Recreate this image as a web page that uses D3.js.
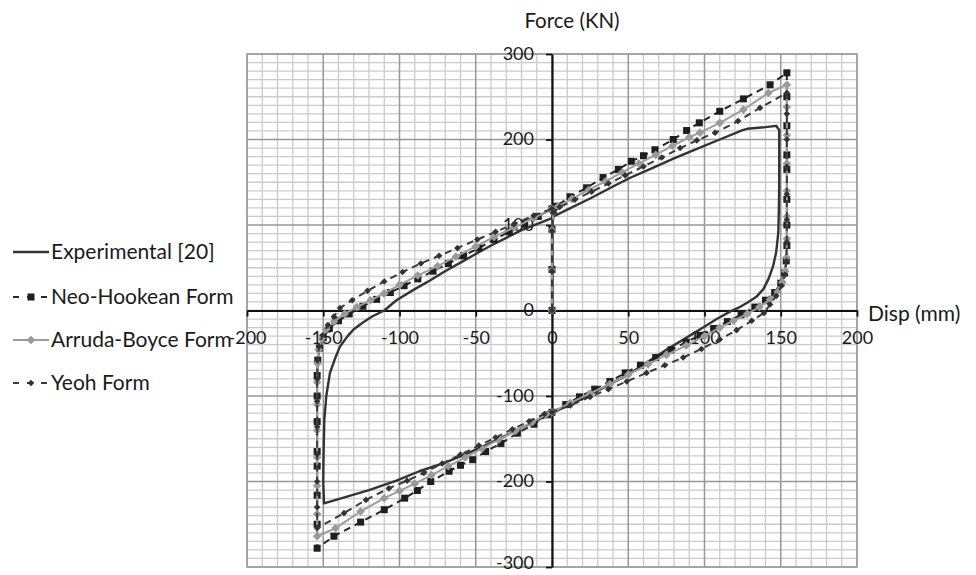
<!DOCTYPE html>
<html>
<head>
<meta charset="utf-8">
<script src="https://cdn.jsdelivr.net/npm/d3@7"></script>
<style>
  html, body { margin: 0; padding: 0; background: #fff; }
  svg { display: block; }
  text { font-family: Lato, "Open Sans", sans-serif; fill: #1a1a1a; }
</style>
</head>
<body>
<svg id="chart" width="976" height="575"></svg>
<script>
// Axis ticks
const xTicks = [-200, -150, -100, -50, 0, 50, 100, 150, 200];
const yTicks = [-300, -200, -100, 0, 100, 200, 300];

// Series names
const seriesNames = ["Experimental [20]", "Neo-Hookean Form", "Arruda-Boyce Form", "Yeoh Form"];

// Hysteresis loops, [displacement (mm), force (kN)]
const experimental = [
  [0,0],[0,50],[0,100],[1,110],[10,118],[25,131],[40,145],[51,155],[65,166],[80,178],[95,189],[110,200],
  [125,211],[128,212.5],[140,214.5],[147,216],[149,211],[149,180],[149,150],[148.8,120],[148.4,91],[147,68],
  [145,52],[142,37],[138.6,25],[134,16],[128,9],[122,3],[117,-1],[108,-10],[98,-21],[88,-32],[75,-46],
  [62,-61],[49,-76],[35,-89],[20,-103],[8,-113],[0,-120],[-15,-133],[-30,-146],[-44,-158],[-54,-166],
  [-70,-178],[-87,-188],[-102,-199],[-120,-210],[-135,-218],[-149.5,-225.5],[-150,-200],[-149.8,-170],
  [-149.3,-128],[-148,-100],[-145.6,-73],[-142,-55],[-139,-42],[-134,-30],[-130,-22],[-124,-14],[-118,-7],
  [-110,0],[-102,12],[-90,25],[-80,35],[-71,45],[-60,56],[-50,66],[-40,76],[-30,85],[-20,94],[-10,101],[0,108]
];

const neoHookean = [
  [0,0],[0,48],[0,95],[1,117],
  [3,122],[11.8,133],[22.7,143.5],[33.5,155.5],[43.5,165],[52,174.5],[60,181],[67.5,188],[79.5,200],
  [88.3,210.5],[96.6,219.5],[110,233],[125.5,247.5],[143,264],[154,278],
  [154,250],[154,216],[154,182],[154,165],[154,130],[154,100],[154,76],[153.6,58],[152.5,44],[150,32],
  [146,21],[140,12],
  [133,4],[124,-5],[115,-13],[106,-21],[97,-29],[88,-37],[78,-46],[68,-55],[58,-64],[48,-73],[38,-83],
  [28,-92],[18,-101],[9,-110],[0,-119],
  [-3,-122],[-11.8,-133],[-22.7,-143.5],[-33.5,-155.5],[-43.5,-165],[-52,-174.5],[-60,-181],[-67.5,-188],
  [-79.5,-200],[-88.3,-210.5],[-96.6,-219.5],[-110,-233],[-125.5,-247.5],[-143,-264],[-154,-278],
  [-154,-250],[-154,-216],[-154,-182],[-154,-165],[-154,-130],[-154,-100],[-154,-76],[-153.6,-58],
  [-152.5,-44],[-150,-32],[-146,-21],[-140,-12],
  [-133,-4],[-124,5],[-115,13],[-106,21],[-97,29],[-88,37],[-78,46],[-68,55],[-58,64],[-48,73],[-38,83],
  [-28,92],[-18,101],[-9,110],[0,119]
];

const arrudaBoyce = [
  [0,0],[0,47],[0,94],[1,116],
  [4,122],[13,130.5],[24,141],[35,151],[46,161.5],[57,172],[68,182],[79,192.5],[90,202.5],[97,208],
  [110,219.5],[125.5,235],[141.9,254.5],[154,264],
  [154,238],[154,205],[154,172],[154,140],[154,110],[154,84],[153.7,62],[153,46],[151,33],[148,22],[143,13],
  [136,4],[128,-4],[119,-12],[110,-20],[100,-30],[88,-41],[75,-52],[63,-63],[50,-75],[38,-86],[25,-97],
  [12,-108],[0,-119],
  [-4,-122],[-13,-130.5],[-24,-141],[-35,-151],[-46,-161.5],[-57,-172],[-68,-182],[-79,-192.5],
  [-90,-202.5],[-100,-211],[-110,-219.5],[-125.5,-235],[-141.9,-254.5],[-154,-264],
  [-154,-238],[-154,-205],[-154,-172],[-154,-140],[-154,-110],[-154,-84],[-153.7,-62],[-153,-46],
  [-151,-33],[-148,-22],[-143,-13],
  [-136,-4],[-128,4],[-119,12],[-110,20],[-100,30],[-88,41],[-75,52],[-63,63],[-50,75],[-38,86],
  [-25,97],[-12,108],[0,119]
];

const yeoh = [
  [0,0],[0,46],[0,93],[1,115],
  [5,121],[15,129.5],[26,139],[37,148.5],[48,158],[60,168.5],[72,179],[84,190],[95,199],[107,208],
  [122,221.5],[136.4,237],[154,254.5],
  [154,230],[154,200],[154,168],[154,136],[154,106],[154,80],[153.7,58],[152.8,42],[150.5,29],[147,17],[143,7],
  [139,-3],[131,-12],[121,-23],[110,-34],[98,-45],[86,-55],[74,-64],[62,-73],[49,-83],[37,-92],[25,-101],
  [12,-111],[0,-119],
  [-5,-121],[-15,-129.5],[-26,-139],[-37,-148.5],[-48,-158],[-60,-168.5],[-72,-179],[-84,-190],[-95,-199],
  [-107,-208],[-122,-221.5],[-136.4,-237],[-154,-254.5],
  [-154,-230],[-154,-200],[-154,-168],[-154,-136],[-154,-106],[-154,-80],[-153.7,-58],[-152.8,-42],
  [-150.5,-29],[-147,-17],[-143,-7],
  [-139,3],[-131,12],[-121,23],[-110,34],[-98,45],[-86,55],[-74,64],[-62,73],[-49,83],[-37,92],
  [-25,101],[-12,111],[0,119]
];

// ---- layout ----
const svg = d3.select("#chart");
const plot = { left: 247, right: 857, top: 54, bottom: 567 };

const x = d3.scaleLinear().domain([-200, 200]).range([plot.left, plot.right]);
const y = d3.scaleLinear().domain([-300, 300]).range([plot.bottom, plot.top]);

// ---- gridlines ----
const grid = svg.append("g");
const minorX = x.ticks(40).filter(v => v % 50 !== 0);
const minorY = y.ticks(60).filter(v => v % 100 !== 0);

grid.selectAll(".mx").data(minorX).join("line")
  .attr("x1", d => x(d)).attr("x2", d => x(d))
  .attr("y1", plot.top).attr("y2", plot.bottom)
  .attr("stroke", "#cbcbcb").attr("stroke-width", 1.3);
grid.selectAll(".my").data(minorY).join("line")
  .attr("x1", plot.left).attr("x2", plot.right)
  .attr("y1", d => y(d)).attr("y2", d => y(d))
  .attr("stroke", "#cbcbcb").attr("stroke-width", 1.3);
grid.selectAll(".Mx").data(xTicks).join("line")
  .attr("x1", d => x(d)).attr("x2", d => x(d))
  .attr("y1", plot.top).attr("y2", plot.bottom)
  .attr("stroke", "#979797").attr("stroke-width", 1.5);
grid.selectAll(".My").data(yTicks).join("line")
  .attr("x1", plot.left).attr("x2", plot.right)
  .attr("y1", d => y(d)).attr("y2", d => y(d))
  .attr("stroke", "#979797").attr("stroke-width", 1.5);
grid.append("rect")
  .attr("x", plot.left).attr("y", plot.top)
  .attr("width", plot.right - plot.left).attr("height", plot.bottom - plot.top)
  .attr("fill", "none").attr("stroke", "#a0a0a0").attr("stroke-width", 1.5);

// ---- axes ----
const axisFont = 18;
const plainNumber = d => String(d);
const xAxis = svg.append("g")
  .attr("transform", `translate(0,${y(0)})`)
  .call(d3.axisBottom(x).tickValues(xTicks).tickFormat(plainNumber)
    .tickSize(6).tickSizeOuter(0).tickPadding(15));
const yAxis = svg.append("g")
  .attr("transform", `translate(${x(0)},0)`)
  .call(d3.axisLeft(y).tickValues(yTicks).tickFormat(plainNumber)
    .tickSize(6).tickSizeOuter(0).tickPadding(12));
yAxis.selectAll(".tick text").attr("dy", "0.3em");
// keep the lowest label inside the frame
yAxis.selectAll(".tick text").filter(d => d === -300).attr("dy", "0.1em");

[xAxis, yAxis].forEach(g => {
  g.select(".domain").attr("stroke", "#111").attr("stroke-width", 2.2);
  g.selectAll(".tick line").attr("stroke", "#111").attr("stroke-width", 1.8);
  g.selectAll(".tick text")
    .attr("font-size", axisFont)
    .attr("font-family", "Lato, sans-serif")
    .attr("fill", "#1a1a1a");
});

// ---- series ----
const line = d3.line().x(d => x(d[0])).y(d => y(d[1]));

const styles = [
  { data: experimental, stroke: "#333", width: 2.4, dash: null, marker: null },
  { data: neoHookean, stroke: "#262626", width: 2, dash: "7,5", marker: "square", mfill: "#1e1e1e", msize: 7 },
  { data: arrudaBoyce, stroke: "#9d9d9d", width: 2, dash: null, marker: "diamond", mfill: "#9a9a9a", msize: 7 },
  { data: yeoh, stroke: "#3a3a3a", width: 2, dash: "7,5", marker: "diamond", mfill: "#333", msize: 5 }
];

function drawMarker(g, type, cx, cy, size, fill) {
  if (type === "square") {
    g.append("rect")
      .attr("x", cx - size / 2).attr("y", cy - size / 2)
      .attr("width", size).attr("height", size)
      .attr("fill", fill);
  } else if (type === "diamond") {
    const r = size / 2 + 0.8;
    g.append("path")
      .attr("d", `M${cx},${cy - r}L${cx + r},${cy}L${cx},${cy + r}L${cx - r},${cy}Z`)
      .attr("fill", fill);
  }
}

const seriesG = svg.append("g");
styles.forEach(s => {
  const g = seriesG.append("g");
  g.append("path")
    .datum(s.data)
    .attr("d", line)
    .attr("fill", "none")
    .attr("stroke", s.stroke)
    .attr("stroke-width", s.width)
    .attr("stroke-linejoin", "round")
    .attr("stroke-dasharray", s.dash);
  if (s.marker) {
    s.data.forEach(d => drawMarker(g, s.marker, x(d[0]), y(d[1]), s.msize, s.mfill));
  }
});

// ---- axis titles ----
svg.append("text")
  .attr("x", 572).attr("y", 28)
  .attr("text-anchor", "middle")
  .attr("font-size", 20.5)
  .text("Force (KN)");
svg.append("text")
  .attr("x", 868).attr("y", 321)
  .attr("font-size", 21)
  .text("Disp (mm)");

// ---- legend ----
const legendRows = [252, 297, 340, 383];
const legend = svg.append("g");
styles.forEach((s, i) => {
  const ly = legendRows[i];
  legend.append("line")
    .attr("x1", 13).attr("x2", 49)
    .attr("y1", ly).attr("y2", ly)
    .attr("stroke", s.stroke)
    .attr("stroke-width", s.width)
    .attr("stroke-dasharray", s.dash ? "6,8" : null);
  if (s.marker) drawMarker(legend, s.marker, 31, ly, s.msize, s.mfill);
  legend.append("text")
    .attr("x", 51).attr("y", ly)
    .attr("dy", "0.35em")
    .attr("font-size", 21)
    .text(seriesNames[i]);
});
</script>
</body>
</html>
